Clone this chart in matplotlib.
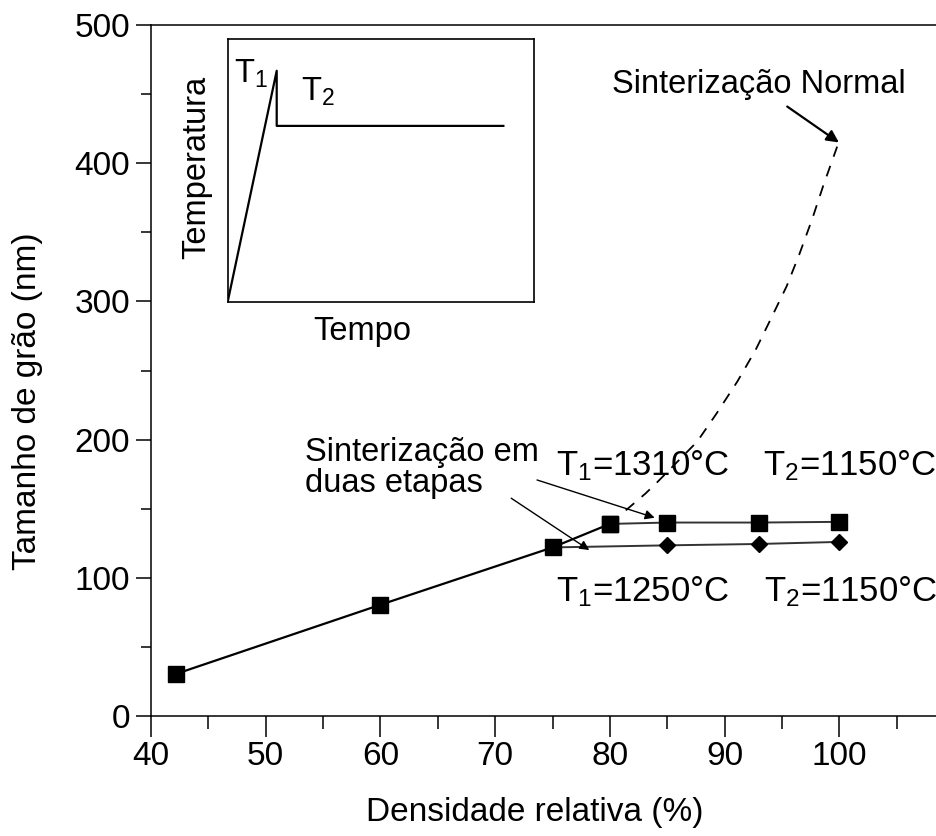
import matplotlib
matplotlib.use("Agg")
import matplotlib.pyplot as plt
from matplotlib.ticker import MultipleLocator

plt.rcParams["font.family"] = ["Liberation Sans", "DejaVu Sans"]
plt.rcParams["mathtext.fontset"] = "custom"
plt.rcParams["mathtext.rm"] = "Liberation Sans"
plt.rcParams["mathtext.it"] = "Liberation Sans:italic"
plt.rcParams["lines.scale_dashes"] = False

# Sinterização normal (pontos medidos)
normal_dens = [42.2, 60, 75, 80]
normal_grao = [30.5, 80.5, 122, 139]

# Sinterização normal (continuação tracejada)
tracejado_dens = [80, 83.1, 84.1, 87.6, 89.3, 91.1, 92.7, 94.0, 95.4, 96.5, 97.6, 98.6, 99.8]
tracejado_grao = [139, 161, 169, 198.5, 219, 242, 265, 287, 311, 334, 359, 384, 412]

# Duas etapas: T1=1310°C, T2=1150°C
t1310_dens = [80, 85, 93, 100]
t1310_grao = [139, 140, 140, 140.5]

# Duas etapas: T1=1250°C, T2=1150°C
t1250_dens = [75, 85, 93, 100]
t1250_grao = [122, 123.5, 124.5, 126]

# Esquema do ciclo térmico (inset)
inset_tempo = [0, 0.16, 0.16, 0.90]
inset_temp = [0, 0.88, 0.67, 0.67]

fs = 24
fs_txt = 23.5
fs_temp = 25

fig = plt.figure(figsize=(9.37, 8.36), dpi=100)
ax = fig.add_axes([0.161, 0.1435, 0.839, 0.8266])

ax.plot(t1310_dens, t1310_grao, color="#333333", lw=1.4, marker="s", ms=11,
        mfc="black", mec="black", zorder=3)
ax.plot(t1250_dens, t1250_grao, color="#333333", lw=1.4, marker="D", ms=8.5,
        mfc="black", mec="black", markevery=[1, 2, 3], zorder=3)
ax.plot(tracejado_dens, tracejado_grao, color="black", lw=1.3, dashes=(8, 7), zorder=2)
ax.plot(normal_dens, normal_grao, color="black", lw=1.6, marker="s", ms=11,
        mfc="black", mec="black", zorder=4)

ax.set_xlim(40, 108.5)
ax.set_ylim(0, 500)
ax.xaxis.set_major_locator(MultipleLocator(10))
ax.xaxis.set_minor_locator(MultipleLocator(5))
ax.yaxis.set_major_locator(MultipleLocator(100))
ax.yaxis.set_minor_locator(MultipleLocator(50))

ax.spines["right"].set_visible(False)
for s in ["left", "bottom", "top"]:
    ax.spines[s].set_linewidth(1.1)

ax.tick_params(axis="x", which="major", direction="out", length=15, width=1.1, pad=3, labelsize=fs)
ax.tick_params(axis="x", which="minor", direction="out", length=9.5, width=1.1)
ax.tick_params(axis="y", which="major", direction="out", length=11, width=1.1, pad=4, labelsize=fs)
ax.tick_params(axis="y", which="minor", direction="out", length=7, width=1.1)

fig.text(535 / 937, 1 - 812 / 836, "Densidade relativa (%)", fontsize=fs, ha="center", va="center")
fig.text(28 / 937, 1 - 401 / 836, "Tamanho de grão (nm)", fontsize=fs, ha="center", va="center",
         rotation=90)

# Anotações
ax.annotate("Sinterização Normal", xy=(99.95, 415), xytext=(93.0, 457), fontsize=fs_txt,
            ha="center", va="center")
ax.annotate("", xy=(99.95, 415), xytext=(95.45, 441),
            arrowprops=dict(arrowstyle="-|>", color="black", lw=1.6, mutation_scale=18,
                            shrinkA=0, shrinkB=0))

ax.text(53.45, 202, "Sinterização em\nduas etapas", fontsize=fs_txt, ha="left", va="top",
        linespacing=1.0)
ax.annotate("", xy=(83.9, 143.5), xytext=(73.65, 170.8),
            arrowprops=dict(arrowstyle="-|>", color="black", lw=1.0, mutation_scale=14,
                            shrinkA=0, shrinkB=0))
ax.annotate("", xy=(78.2, 120.1), xytext=(71.4, 157.6),
            arrowprops=dict(arrowstyle="-|>", color="black", lw=1.0, mutation_scale=14,
                            shrinkA=0, shrinkB=0))

ax.text(75.3, 174.4, r"T$_\mathrm{1}$=1310°C", fontsize=fs_temp, ha="left", va="baseline")
ax.text(93.3, 174.4, r"T$_\mathrm{2}$=1150°C", fontsize=fs_temp, ha="left", va="baseline")
ax.text(75.3, 82.7, r"T$_\mathrm{1}$=1250°C", fontsize=fs_temp, ha="left", va="baseline")
ax.text(93.45, 82.7, r"T$_\mathrm{2}$=1150°C", fontsize=fs_temp, ha="left", va="baseline")

# Inset com o ciclo térmico
axi = fig.add_axes([227.7 / 937, 1 - 301.7 / 836, 306.3 / 937, 262.4 / 836])
axi.plot(inset_tempo, inset_temp, color="black", lw=1.6)
axi.set_xlim(0, 1)
axi.set_ylim(0, 1)
axi.set_xticks([])
axi.set_yticks([])
for s in axi.spines.values():
    s.set_linewidth(1.2)
axi.text(0.02, 0.87, r"T$_\mathrm{1}$", fontsize=fs_txt, ha="left", va="center")
axi.text(0.24, 0.80, r"T$_\mathrm{2}$", fontsize=fs_txt, ha="left", va="center")
fig.text(197 / 937, 1 - 167 / 836, "Temperatura", fontsize=fs_txt, rotation=90, ha="center", va="center")
fig.text(362 / 937, 1 - 332 / 836, "Tempo", fontsize=fs_txt, ha="center", va="center")

fig.savefig("out.png", dpi=100)
